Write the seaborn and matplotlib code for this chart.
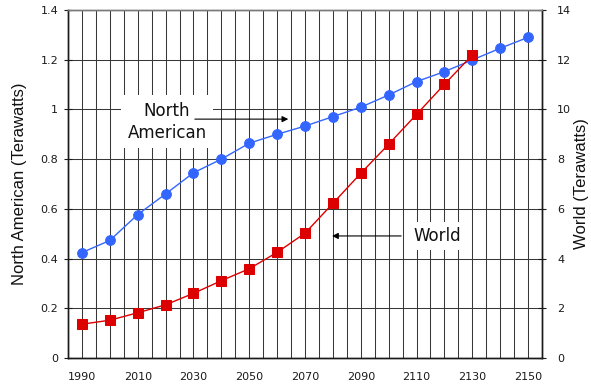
import matplotlib
matplotlib.use("Agg")
import matplotlib.pyplot as plt
import seaborn as sns
import numpy as np
import pandas as pd

# Projected energy demand, sampled every decade
years_na = [1990, 2000, 2010, 2020, 2030, 2040, 2050, 2060, 2070, 2080,
            2090, 2100, 2110, 2120, 2130, 2140, 2150]
north_american = [0.424, 0.473, 0.577, 0.66, 0.745, 0.80, 0.864, 0.900, 0.933,
                  0.971, 1.009, 1.058, 1.112, 1.152, 1.199, 1.246, 1.290]

years_world = [1990, 2000, 2010, 2020, 2030, 2040, 2050, 2060, 2070, 2080,
               2090, 2100, 2110, 2120, 2130]
world = [1.36, 1.52, 1.82, 2.14, 2.60, 3.11, 3.59, 4.25, 5.02, 6.22,
         7.43, 8.60, 9.80, 11.01, 12.19]

x_labels = [1990, 2010, 2030, 2050, 2070, 2090, 2110, 2130, 2150]
left_ticks = [0, 0.2, 0.4, 0.6, 0.8, 1.0, 1.2, 1.4]
right_ticks = [0, 2, 4, 6, 8, 10, 12, 14]

na_df = pd.DataFrame({"year": years_na, "tw": north_american})
world_df = pd.DataFrame({"year": years_world, "tw": world})

sns.set_style("white")
plt.rcParams["font.family"] = ["DejaVu Sans"]

BLUE = "#3366ff"
RED = "#dd0000"
GRID = "#383838"

fig = plt.figure(figsize=(5.91, 3.85), dpi=100)
ax = fig.add_axes([68 / 591, 27 / 385, 474 / 591, 348 / 385])
ax2 = ax.twinx()

ax.set_xlim(1985, 2155)
ax.set_ylim(0, 1.4)
ax2.set_ylim(0, 14)

# Grid: a vertical line every five years, horizontal at each left tick
for yr in np.arange(1985, 2156, 5):
    ax.axvline(yr, color=GRID, lw=0.75, zorder=0.5)
for v in left_ticks:
    ax.axhline(v, color=GRID, lw=0.75, zorder=0.5)

sns.lineplot(data=na_df, x="year", y="tw", ax=ax, color=BLUE, lw=1.0,
             marker="o", markersize=7, markeredgecolor=BLUE, zorder=3)
sns.lineplot(data=world_df, x="year", y="tw", ax=ax2, color=RED, lw=1.0,
             marker="s", markersize=6.5, markeredgecolor=RED, zorder=3)

ax.set_xticks(x_labels)
ax.set_xticklabels([str(v) for v in x_labels])
ax.set_xticks(np.arange(1985, 2156, 5), minor=True)
ax.set_yticks(left_ticks)
ax.set_yticklabels(["0", "0.2", "0.4", "0.6", "0.8", "1", "1.2", "1.4"])
ax2.set_yticks(right_ticks)
ax2.set_yticklabels([str(v) for v in right_ticks])

tick_kw = dict(labelsize=8, labelcolor="#1a1a1a", color="#1a1a1a", width=0.8)
ax.tick_params(axis="x", which="major", direction="out", length=4, pad=6, **tick_kw)
ax.tick_params(axis="x", which="minor", direction="out", length=2, color="#1a1a1a")
ax.tick_params(axis="y", direction="inout", length=6, pad=4, left=True, **tick_kw)
ax2.tick_params(axis="y", direction="inout", length=6, pad=8, right=True, **tick_kw)

for a in (ax, ax2):
    for side, sp in a.spines.items():
        sp.set_visible(True)
        sp.set_color("#1a1a1a")
        sp.set_linewidth(1.0)
    a.spines["top"].set_color("#7a7a7a")

label_font = dict(family=["Liberation Sans", "DejaVu Sans"], size=12, color="#111111")
ax.set_xlabel("")
ax.set_ylabel("North American (Terawatts)", labelpad=10, **label_font)
ax2.set_ylabel("World (Terawatts)", labelpad=2, **label_font)

# Callouts with white boxes over the grid
note_font = dict(family=["DejaVu Sans"], size=12, color="#111111")
ax2.annotate("", xy=(2064, 9.61), xytext=(2030.5, 9.61),
             arrowprops=dict(arrowstyle="-|>", color="black", lw=0.8,
                             mutation_scale=9, shrinkA=0, shrinkB=0), zorder=5)
ax2.text(2020.5, 9.5, "North\nAmerican", ha="center", va="center",
         linespacing=1.3, zorder=4,
         bbox=dict(facecolor="white", edgecolor="none", pad=4.5), **note_font)

ax2.annotate("", xy=(2079.7, 4.91), xytext=(2104.5, 4.91),
             arrowprops=dict(arrowstyle="-|>", color="black", lw=0.8,
                             mutation_scale=9, shrinkA=0, shrinkB=0), zorder=5)
ax2.text(2117.4, 4.91, "World", ha="center", va="center", zorder=4,
         bbox=dict(facecolor="white", edgecolor="none", pad=3.5), **note_font)

fig.savefig("out.png", dpi=100)
